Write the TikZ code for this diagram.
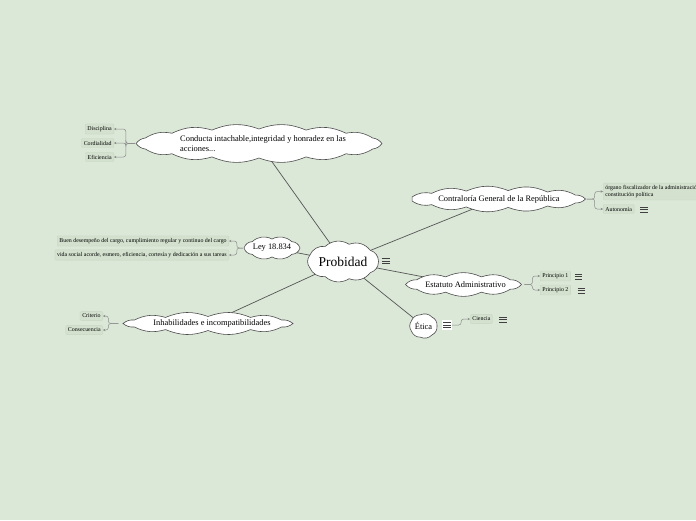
\documentclass[tikz,border=0pt]{standalone}
\usepackage{fontspec}
\setmainfont{Liberation Serif}
\usetikzlibrary{shapes.geometric,arrows.meta,calc}
\definecolor{bg}{RGB}{219,231,215}
\definecolor{boxfill}{RGB}{211,225,206}
\definecolor{boxdraw}{RGB}{198,214,193}
\definecolor{mainline}{RGB}{85,85,85}
\definecolor{subline}{RGB}{140,140,140}
\pgfdeclarelayer{bottom}
\pgfdeclarelayer{background}
\pgfsetlayers{bottom,background,main}
\newcommand{\menuic}[2]{%
  \node[inner sep=0pt, minimum width=7pt, minimum height=6pt] (#1) at (#2) {};
  \foreach \dy in {-2.6,0,2.6}{\draw[line width=0.6pt, black!75] ([yshift=\dy pt]#1.west) -- ([yshift=\dy pt]#1.east);}%
}
% cloud outline: centre x, centre y, half-width, half-height, number of puffs, bend
\newcommand{\cloudpath}[6]{%
  \draw[cloudline] ({#1+#3},{#2})
    \foreach \i in {1,...,#5}{ to[bend left=#6] ({#1+#3*cos(\i*360/#5)},{#2+#4*sin(\i*360/#5)}) } -- cycle;%
}
\begin{document}
\begin{tikzpicture}[x=1pt,y=-1pt,
  cloudline/.style={draw=black!70, fill=white, line width=0.6pt},
  cloudnode/.style={ellipse, inner sep=0pt, font=\fontsize{8.4}{9.4}\selectfont, align=left},
  mainconn/.style={draw=mainline, line width=0.7pt},
  subconn/.style={draw=subline, line width=0.5pt, rounded corners=2.5pt, -{Stealth[length=2.4pt,width=2.4pt]}},
  subbox/.style={fill=boxfill, draw=boxdraw, line width=0.3pt, rounded corners=1pt, font=\fontsize{5.9}{6.6}\selectfont, inner xsep=2.2pt, inner ysep=2.4pt, align=left},
]
\useasboundingbox (0,0) rectangle (696,520);
\clip (0,0) rectangle (696,520);
\begin{pgfonlayer}{bottom}
\fill[bg] (0,0) rectangle (696,520);
\end{pgfonlayer}

% main clouds
\cloudpath{343}{261.5}{35.5}{17.5}{9}{36}
\node[cloudnode, minimum width=71pt, minimum height=35pt, font=\fontsize{13.5}{15}\selectfont] (prob) at (343,261.5) {Probidad};
\cloudpath{259}{143.5}{123}{14.5}{16}{21}
\node[cloudnode, minimum width=246pt, minimum height=29pt] (cond) at (259,143.5) {\hspace*{8pt}Conducta intachable,integridad y honradez en las\\\hspace*{8pt}acciones...};
\cloudpath{497.5}{199}{88}{8.5}{13}{22}
\node[cloudnode, minimum width=176pt, minimum height=17pt] (contra) at (497.5,199) {\hspace*{3pt}Contraloría General de la República};
\cloudpath{272}{248}{28}{9}{8}{34}
\node[cloudnode, minimum width=56pt, minimum height=18pt] (ley) at (272,248) {Ley 18.834};
\cloudpath{463.5}{284.5}{58}{8}{10}{24}
\node[cloudnode, minimum width=116pt, minimum height=16pt] (estat) at (463.5,284.5) {\hspace*{4pt}Estatuto Administrativo};
\cloudpath{423.5}{326}{13.5}{11.5}{7}{34}
\node[cloudnode, minimum width=27pt, minimum height=23pt] (etica) at (423.5,326) {Ética};
\cloudpath{208}{323.5}{85}{7}{12}{21}
\node[cloudnode, minimum width=170pt, minimum height=14pt] (inhab) at (208,323.5) {\hspace*{8pt}Inhabilidades e incompatibilidades};

% main connectors (behind the clouds)
\begin{pgfonlayer}{background}
\draw[mainconn] (prob.center) -- (cond.center);
\draw[mainconn] (prob.center) -- (contra.center);
\draw[mainconn] (prob.center) -- (ley.center);
\draw[mainconn] (prob.center) -- (estat.center);
\draw[mainconn] (prob.center) -- (etica.center);
\draw[mainconn] (prob.center) -- (inhab.center);
\end{pgfonlayer}

% icons
\menuic{iprob}{386,261}
\node[fill=white, inner sep=0pt, minimum width=10pt, minimum height=10pt] (ietica) at (447,325) {};
\menuic{ieticalines}{447,325}

% Conducta children
\node[subbox, anchor=east] (disc) at (114,129) {Disciplina};
\node[subbox, anchor=east] (cord) at (114,143) {Cordialidad};
\node[subbox, anchor=east] (efic) at (114,157) {Eficiencia};
\draw[subconn] ([xshift=-1pt]cond.west) -- ++(-9,0) |- (disc.east);
\draw[subconn] ([xshift=-1pt]cond.west) -- ++(-9,0) |- (cord.east);
\draw[subconn] ([xshift=-1pt]cond.west) -- ++(-9,0) |- (efic.east);

% Contraloria children
\node[subbox, anchor=west] (organo) at (603,191.5) {órgano fiscalizador de la administración del estado\\constitución política};
\node[subbox, anchor=west] (auton) at (603,209) {Autonomía};
\menuic{iauton}{644,209.5}
\draw[subconn] ([xshift=1pt]contra.east) -- ++(8,0) |- (organo.west);
\draw[subconn] ([xshift=1pt]contra.east) -- ++(8,0) |- (auton.west);

% Ley children
\node[subbox, anchor=east] (buen) at (229,241) {Buen desempeño del cargo, cumplimiento regular y continuo del cargo};
\node[subbox, anchor=east] (vida) at (229,255) {vida social acorde, esmero, eficiencia, cortesía y dedicación a sus tareas};
\draw[subconn] ([xshift=-1pt]ley.west) -- ++(-6,0) |- (buen.east);
\draw[subconn] ([xshift=-1pt]ley.west) -- ++(-6,0) |- (vida.east);

% Estatuto children
\node[subbox, anchor=west] (p1) at (540,276) {Principio 1};
\node[subbox, anchor=west] (p2) at (540,290) {Principio 2};
\menuic{ip1}{578.5,276.5}
\menuic{ip2}{581.5,290.5}
\draw[subconn] ([xshift=1pt]estat.east) -- ++(8,0) |- (p1.west);
\draw[subconn] ([xshift=1pt]estat.east) -- ++(8,0) |- (p2.west);

% Etica children
\node[subbox, anchor=west] (cien) at (470,319) {Ciencia};
\menuic{icien}{503,319.5}
\draw[subconn] (ietica.east) -- ++(9,0) |- (cien.west);

% Inhabilidades children
\node[subbox, anchor=east] (crit) at (103,316) {Criterio};
\node[subbox, anchor=east] (cons) at (103,330) {Consecuencia};
\draw[subconn] ([xshift=-1pt]inhab.west) -- ++(-10,0) |- (crit.east);
\draw[subconn] ([xshift=-1pt]inhab.west) -- ++(-10,0) |- (cons.east);
\end{tikzpicture}
\end{document}
